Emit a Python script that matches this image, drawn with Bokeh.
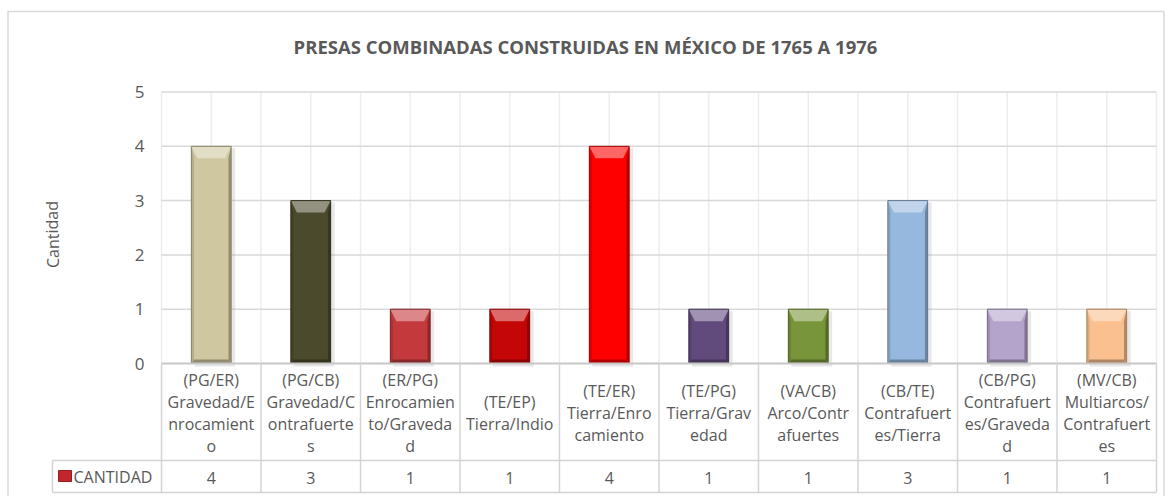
from bokeh.plotting import figure
from bokeh.models import Range1d
from bokeh.core.properties import value
from bokeh.embed import file_html
from bokeh.resources import INLINE

# ---------------- data ----------------
title_text = "PRESAS COMBINADAS CONSTRUIDAS EN MÉXICO DE 1765 A 1976"
y_label = "Cantidad"
series_name = "CANTIDAD"
categories = [
    "(PG/ER)\nGravedad/E\nnrocamient\no",
    "(PG/CB)\nGravedad/C\nontrafuerte\ns",
    "(ER/PG)\nEnrocamien\nto/Graveda\nd",
    "(TE/EP)\nTierra/Indio",
    "(TE/ER)\nTierra/Enro\ncamiento",
    "(TE/PG)\nTierra/Grav\nedad",
    "(VA/CB)\nArco/Contr\nafuertes",
    "(CB/TE)\nContrafuert\nes/Tierra",
    "(CB/PG)\nContrafuert\nes/Graveda\nd",
    "(MV/CB)\nMultiarcos/\nContrafuert\nes",
]
values = [4, 3, 1, 1, 4, 1, 1, 3, 1, 1]
colors = ["#CFC79F", "#4B4A2C", "#C4393C", "#C50606", "#FF0000",
          "#614B7D", "#789539", "#97B8DE", "#B4A3CA", "#FBC08F"]
y_ticks = [0, 1, 2, 3, 4, 5]

# ---------------- layout (page pixels -> data units) ----------------
OX, OY = 0, 0              # page position of the canvas
W, H = 1170, 496
PLOT_L, PLOT_B = 161.0, 363.0
XS = 99.5                  # px per category
YS = 54.3                  # px per unit of value


def dx(px):
    return (px - PLOT_L) / XS


def dy(py):
    return (PLOT_B - py) / YS


p = figure(width=W, height=H, output_backend="svg", toolbar_location=None,
           x_range=Range1d(dx(OX), dx(OX + W)), y_range=Range1d(dy(OY + H), dy(OY)),
           x_axis_location=None, y_axis_location=None, min_border=0,
           background_fill_color="white", border_fill_color="white")
p.outline_line_color = None
p.grid.visible = False

FONT = value("Open Sans")
TXT = "#595959"
n = len(categories)
centers = [i + 0.5 for i in range(n)]


def mix(c, t, amt):
    c = c.lstrip("#")
    r, g, b = int(c[0:2], 16), int(c[2:4], 16), int(c[4:6], 16)
    tr, tg, tb = t
    return "#%02x%02x%02x" % (round(r + (tr - r) * amt), round(g + (tg - g) * amt), round(b + (tb - b) * amt))


# outer chart border (left, top, right)
p.multi_line(xs=[[dx(7.5), dx(7.5), dx(1163.5), dx(1163.5)]],
             ys=[[dy(500), dy(11), dy(11), dy(500)]], line_color="#D9D9D9", line_width=1.5)

# gridlines
p.segment(x0=[k * 0.5 for k in range(2 * n + 1)], x1=[k * 0.5 for k in range(2 * n + 1)],
          y0=0, y1=max(y_ticks), line_color="#EDEDED", line_width=1.5)
p.segment(x0=0, x1=n, y0=y_ticks[1:], y1=y_ticks[1:], line_color="#D9D9D9", line_width=1.5)

# y tick labels
p.text(x=[dx(144)] * len(y_ticks), y=y_ticks, text=[str(t) for t in y_ticks],
       text_align="right", text_baseline="middle", text_font=FONT,
       text_font_size="17px", text_color=TXT)

# y axis label
p.text(x=[dx(52)], y=[dy(234)], text=[y_label], angle=1.5708, text_align="center",
       text_baseline="middle", text_font=FONT, text_font_size="16px", text_color=TXT)

# title
p.text(x=[dx(585)], y=[dy(46)], text=[title_text], text_align="center", text_baseline="middle",
       text_font=FONT, text_font_size="18.5px", text_font_style="bold", text_color=TXT)

# ---- bars with bevel ----
bw = 0.4
sx = 6.0 / XS      # bevel inset horizontally
st = 12.0 / YS     # top bevel height
sb = 4.0 / YS      # bottom bevel height
# shadow
p.quad(left=[c - bw / 2 + 3 / XS for c in centers], right=[c + bw / 2 + 4 / XS for c in centers],
       bottom=[-3 / YS] * n, top=[v - 2 / YS for v in values],
       fill_color="#7F7F7F", fill_alpha=0.18, line_color=None)
p.vbar(x=centers, top=values, bottom=0, width=bw, fill_color=colors, line_color=None)

tops_x, tops_y, tops_c = [], [], []
lx, ly, lc, rx, ry, rc, bx, by, bc = [], [], [], [], [], [], [], [], []
for c, v, col in zip(centers, values, colors):
    L, R = c - bw / 2, c + bw / 2
    tops_x.append([L, R, R - sx, L + sx]); tops_y.append([v, v, v - st, v - st])
    tops_c.append(mix(col, (255, 255, 255), 0.4))
    lx.append([L, L + sx * 0.45, L + sx * 0.45, L]); ly.append([v, v - st, sb, 0])
    lc.append(mix(col, (0, 0, 0), 0.12))
    rx.append([R, R - sx * 0.45, R - sx * 0.45, R]); ry.append([v, v - st, sb, 0])
    rc.append(mix(col, (0, 0, 0), 0.28))
    bx.append([L, R, R - sx * 0.45, L + sx * 0.45]); by.append([0, 0, sb, sb])
    bc.append(mix(col, (0, 0, 0), 0.3))
p.patches(xs=lx, ys=ly, fill_color=lc, line_color=None)
p.patches(xs=rx, ys=ry, fill_color=rc, line_color=None)
p.patches(xs=bx, ys=by, fill_color=bc, line_color=None)
p.patches(xs=tops_x, ys=tops_y, fill_color=tops_c, line_color=None)
p.multi_line(xs=[[c - bw / 2, c - bw / 2, c + bw / 2, c + bw / 2] for c in centers],
             ys=[[0, v, v, 0] for v in values],
             line_color=[mix(col, (0, 0, 0), 0.35) for col in colors], line_width=1)

# ---- data table ----
TL = "#D4D4D4"
p.segment(x0=0, x1=n, y0=0, y1=0, line_color="#C8C8C8", line_width=2)
p.segment(x0=list(range(n + 1)), x1=list(range(n + 1)), y0=0, y1=dy(492),
          line_color=TL, line_width=1.5)
p.segment(x0=[dx(52), dx(52)], x1=[n, n], y0=[dy(460), dy(492)], y1=[dy(460), dy(492)],
          line_color=TL, line_width=1.5)
p.segment(x0=[dx(52)], x1=[dx(52)], y0=[dy(460)], y1=[dy(492)], line_color=TL, line_width=1.5)

lab_x, lab_y, lab_t = [], [], []
LINE = 22.0
for c, cat in zip(centers, categories):
    lines = cat.split("\n")
    for j, t in enumerate(lines):
        lab_x.append(c)
        lab_y.append(dy(412 + (j - (len(lines) - 1) / 2) * LINE))
        lab_t.append(t)
p.text(x=lab_x, y=lab_y, text=lab_t, text_align="center", text_baseline="middle",
       text_font=FONT, text_font_size="16px", text_color=TXT)

p.text(x=centers, y=[dy(477)] * n, text=[str(v) for v in values], text_align="center",
       text_baseline="middle", text_font=FONT, text_font_size="16px", text_color=TXT)

# legend key in table
p.quad(left=[dx(58)], right=[dx(71)], bottom=[dy(481)], top=[dy(470)],
       fill_color="#C0262B", line_color="#9E1B1F")
p.text(x=[dx(73)], y=[dy(476)], text=[series_name], text_align="left", text_baseline="middle",
       text_font=FONT, text_font_size="16px", text_color=TXT)

open("out.html", "w").write(file_html(p, INLINE))
